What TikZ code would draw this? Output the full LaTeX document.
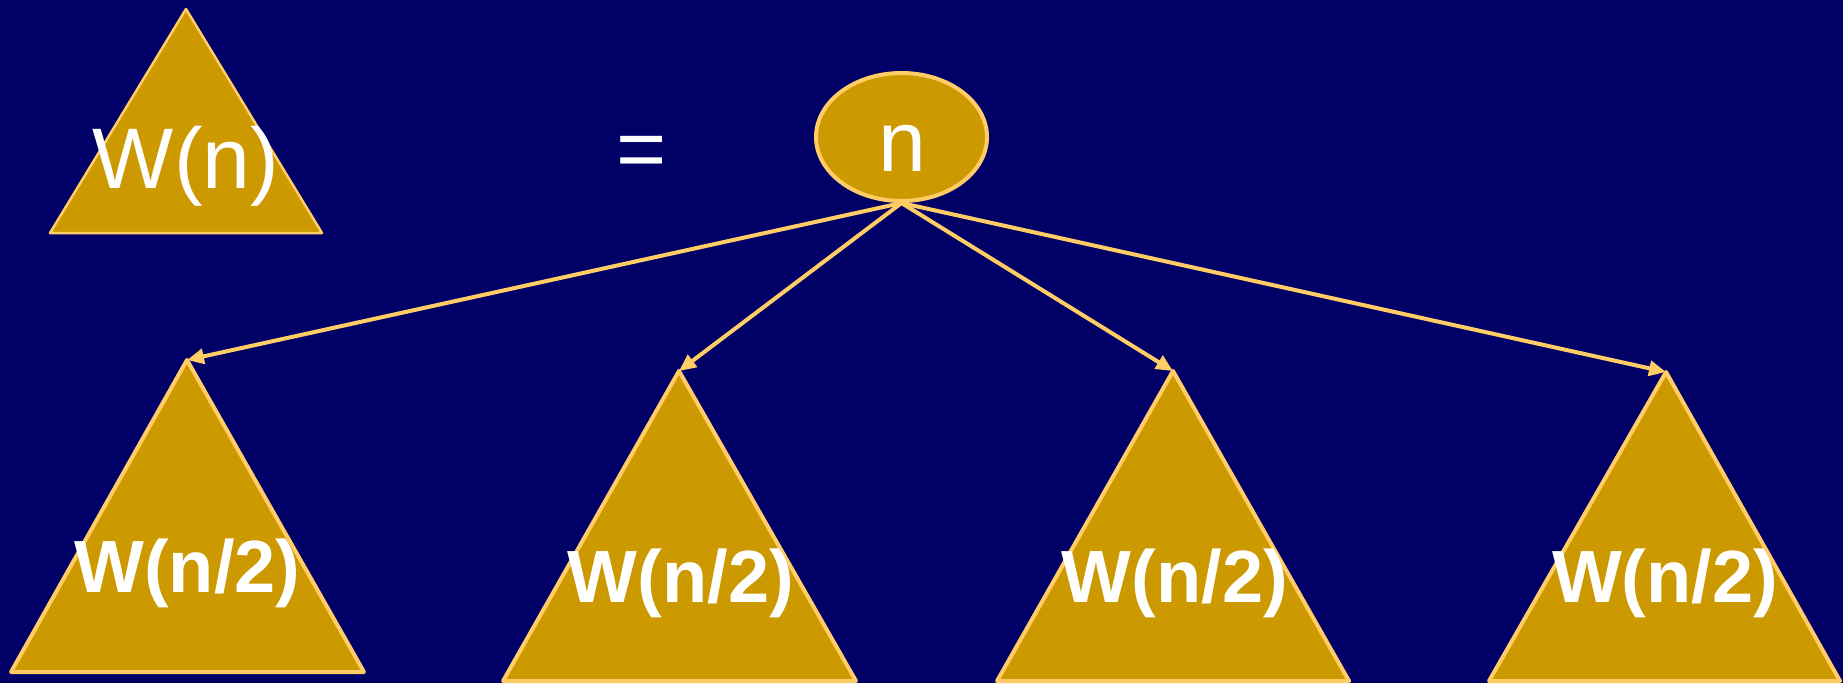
\documentclass[tikz,border=0pt]{standalone}
\usepackage{fontspec}
\setmainfont{Liberation Sans}
\usetikzlibrary{arrows.meta,shapes.geometric}
\definecolor{navy}{RGB}{0,0,102}
\definecolor{gold}{RGB}{204,153,0}
\definecolor{edge}{RGB}{255,204,102}
\begin{document}
\begin{tikzpicture}[x=1pt,y=-1pt,
  tri/.style={fill=gold,draw=edge,line width=4pt,line join=round},
  link/.style={draw=edge,line width=4pt,-{Triangle[length=17pt,width=15pt]}},
  big/.style={text=white,inner sep=0pt,font=\fontsize{86}{100}\selectfont},
  bigb/.style={text=white,inner sep=0pt,font=\fontsize{74}{90}\selectfont\bfseries}]
\fill[navy] (0,0) rectangle (1843,683);
\useasboundingbox (0,0) rectangle (1843,683);
% top triangle
\draw[tri,line width=2.5pt] (186,9) -- (322,233) -- (50,233) -- cycle;
\node[big,anchor=base] (wn) at (186,188) {W(n)};
\node[big,anchor=base] (eq) at (642,178) {=};
% root
\node[ellipse,fill=gold,draw=edge,line width=4pt,minimum width=171pt,minimum height=128pt,inner sep=0pt] (root) at (901.5,137) {};
\node[big,anchor=base] (rn) at (902,171) {n};
% subtrees
\coordinate (a1) at (187,360);
\coordinate (a2) at (679,371);
\coordinate (a3) at (1173,371);
\coordinate (a4) at (1666,372);
\draw[tri] (a1) -- (364,672) -- (11,672) -- cycle;
\draw[tri] (a2) -- (856,681) -- (503,681) -- cycle;
\draw[tri] (a3) -- (1349,681) -- (997,681) -- cycle;
\draw[tri] (a4) -- (1840,681) -- (1489,681) -- cycle;
\coordinate (r) at (root.south);
\draw[link] (r) -- (a1);
\draw[link] (r) -- (a2);
\draw[link] (r) -- (a3);
\draw[link] (r) -- (a4);
\node[bigb,anchor=base] (t1) at (187.5,592) {W(n/2)};
\node[bigb,anchor=base] (t2) at (681,602) {W(n/2)};
\node[bigb,anchor=base] (t3) at (1175,602) {W(n/2)};
\node[bigb,anchor=base] (t4) at (1665,602) {W(n/2)};
\end{tikzpicture}
\end{document}
